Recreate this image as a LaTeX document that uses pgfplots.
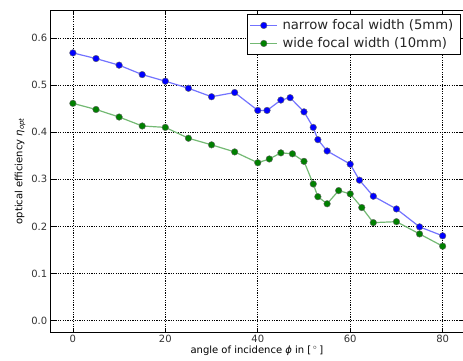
\documentclass[border=0pt]{standalone}
\usepackage{fontspec}
\setmainfont{DejaVu Sans}
\usepackage{pgfplots}
\pgfplotsset{compat=1.18}
\definecolor{mblue}{rgb}{0,0,1}
\definecolor{mgreen}{rgb}{0,0.5,0}
\begin{document}
\begin{tikzpicture}
\begin{axis}[
 scale only axis, width=412.3pt, height=322pt,
 xmin=-4.8, xmax=84.4, ymin=-0.024, ymax=0.659,
 xtick={0,20,40,60,80}, ytick={0,0.1,0.2,0.3,0.4,0.5,0.6},
 yticklabel style={/pgf/number format/.cd,fixed,fixed zerofill,precision=1},
 /pgf/number format/assume math mode=true,
 tick align=inside, major tick length=4pt, tick style={black, line width=0.6pt},
 grid=major, grid style={black, dash pattern=on 1.2pt off 1.2pt, line width=0.6pt},
 axis line style={line width=0.8pt},
 tick label style={font=\fontsize{10}{12}\selectfont, text=black!80},
 label style={font=\fontsize{10}{12}\selectfont},
 xlabel={angle of incidence \textit{ϕ} in [\,$^\circ$\,]},
 ylabel={optical efficiency \textit{η}\textsubscript{\textit{opt}}},
 xlabel style={yshift=4pt},
 ylabel style={yshift=-1pt},
 legend cell align=left,
 legend style={at={(0.993,0.988)}, anchor=north east, draw=black, line width=0.6pt, sharp corners,
   font=\fontsize{13.2}{15}\selectfont, text=black!85, inner xsep=2pt, inner ysep=3pt, row sep=1.5pt,
   nodes={inner xsep=4.5pt, inner ysep=2.5pt}},
 legend image code/.code={\draw[mark repeat=2,mark phase=2] plot coordinates {(0cm,0cm)(0.48cm,0cm)(0.96cm,0cm)};},
]
\addplot[color=mblue!55, line width=1.2pt, mark=*, mark size=3.3pt,
  mark options={fill=mblue, draw=black!60, line width=0.4pt}] coordinates {
(0,0.568) (5,0.556) (10,0.542) (15,0.522) (20,0.508) (25,0.493) (30,0.475) (35,0.484)
(40,0.446) (42,0.446) (45,0.468) (47,0.473) (50,0.443) (52,0.410) (53,0.384) (55,0.360)
(60,0.332) (62,0.298) (65,0.264) (70,0.237) (75,0.199) (80,0.180)};
\addlegendentry{narrow focal width (5mm)}
\addplot[color=mgreen!55, line width=1.2pt, mark=*, mark size=3.3pt,
  mark options={fill=mgreen, draw=black!60, line width=0.4pt}] coordinates {
(0,0.461) (5,0.448) (10,0.432) (15,0.413) (20,0.410) (25,0.387) (30,0.373) (35,0.358)
(40,0.335) (42.5,0.343) (45,0.356) (47.5,0.354) (50,0.338) (52,0.290) (53,0.263) (55,0.248)
(57.5,0.276) (60,0.269) (62.5,0.240) (65,0.208) (70,0.210) (75,0.184) (80,0.158)};
\addlegendentry{wide focal width (10mm)}
\end{axis}
\pgfresetboundingbox
\path[use as bounding box] ([xshift=-50.7pt,yshift=-28pt]current axis.south west) rectangle ([yshift=10pt]current axis.north east);
\end{tikzpicture}
\end{document}
